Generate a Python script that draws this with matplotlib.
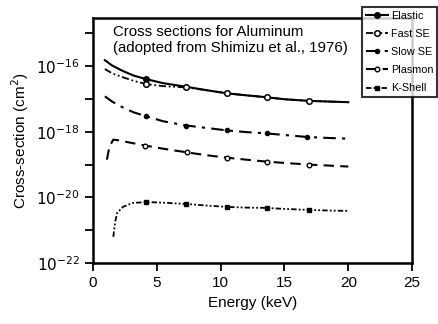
import numpy as np
import matplotlib
matplotlib.use("Agg")
import matplotlib.pyplot as plt
from matplotlib.ticker import FixedLocator, NullFormatter

plt.rcParams['font.family'] = ['Liberation Sans', 'DejaVu Sans']

# Energy (keV) and log10 cross-section (cm^2)
elastic_E = [0.94, 1.5, 2.35, 3.2, 4.2, 5.5, 7.3, 9, 10.5, 12, 13.6, 15, 16.9, 18.5, 20]
elastic_log = [-15.82, -15.98, -16.15, -16.29, -16.40, -16.52, -16.63, -16.74, -16.83, -16.89, -16.95, -17.01, -17.06, -17.08, -17.10]

fastse_E = [0.94, 1.5, 2.35, 3.2, 4.2, 5.5, 7.3, 9, 10.5, 12, 13.6, 15, 16.9, 18.5, 20]
fastse_log = [-16.09, -16.22, -16.34, -16.45, -16.55, -16.61, -16.65, -16.74, -16.83, -16.89, -16.95, -17.01, -17.06, -17.08, -17.10]

slowse_E = [0.94, 1.5, 2.35, 3.2, 4.2, 5.5, 7.3, 8.4, 10.5, 12, 13.6, 15, 16.8, 18.5, 20]
slowse_log = [-16.92, -17.08, -17.26, -17.41, -17.53, -17.68, -17.81, -17.86, -17.96, -18.01, -18.05, -18.10, -18.16, -18.19, -18.21]

plasmon_E = [1.1, 1.3, 1.6, 2.0, 2.9, 4.1, 5.4, 7.4, 9, 10.5, 12, 13.6, 15, 16.9, 18.5, 20]
plasmon_log = [-18.85, -18.45, -18.24, -18.26, -18.33, -18.42, -18.51, -18.63, -18.72, -18.79, -18.85, -18.91, -18.95, -19.00, -19.03, -19.06]

kshell_E = [1.6, 1.75, 1.9, 2.35, 3.1, 4.2, 5.5, 7.3, 9, 10.5, 12, 13.6, 15, 16.9, 18.5, 20]
kshell_log = [-21.2, -20.75, -20.47, -20.29, -20.17, -20.14, -20.16, -20.20, -20.25, -20.29, -20.31, -20.32, -20.35, -20.38, -20.40, -20.41]

series_names = ["Elastic", "Fast SE", "Slow SE", "Plasmon", "K-Shell"]
x_ticks = [0, 5, 10, 15, 20, 25]
y_major_exp = [-22, -20, -18, -16]
y_minor_exp = [-21, -19, -17, -15]

fig = plt.figure(figsize=(4.38, 3.24), dpi=100)
ax = fig.add_axes([0.212, 0.188, 0.729, 0.756])

lw = 1.5
h1, = ax.plot(elastic_E, 10.0 ** np.array(elastic_log), color='black', lw=lw, ls='-',
              marker='o', ms=4, markevery=[4], mfc='black', label=series_names[0])
h2, = ax.plot(fastse_E, 10.0 ** np.array(fastse_log), color='black', lw=1.3,
              ls=(0, (4, 1.5, 1, 1.5, 1, 1.5)), marker='o', ms=4, mfc='white', mew=1.1,
              markevery=[4, 6, 8, 10, 12], label=series_names[1])
h3, = ax.plot(slowse_E, 10.0 ** np.array(slowse_log), color='black', lw=lw,
              ls=(0, (6, 3, 1.5, 3)), marker='o', ms=3, mfc='black',
              markevery=[4, 6, 8, 10, 12], label=series_names[2])
h4, = ax.plot(plasmon_E, 10.0 ** np.array(plasmon_log), color='black', lw=lw,
              ls=(0, (5, 3)), marker='o', ms=3.3, mfc='white', mew=1.0,
              markevery=[5, 7, 9, 11, 13], label=series_names[3])
h5, = ax.plot(kshell_E, 10.0 ** np.array(kshell_log), color='black', lw=1.3,
              ls=(0, (3, 1.2, 1, 1.2, 1, 1.2)), marker='s', ms=3.5, mfc='black',
              markevery=[5, 7, 9, 11, 13], label=series_names[4])

ax.set_yscale('log')
ax.set_xlim(0, 25)
ax.set_ylim(1e-22, 10 ** -14.54)
ax.xaxis.set_major_locator(FixedLocator(x_ticks))
ax.yaxis.set_major_locator(FixedLocator([10.0 ** e for e in y_major_exp]))
ax.yaxis.set_minor_locator(FixedLocator([10.0 ** e for e in y_minor_exp]))
ax.yaxis.set_minor_formatter(NullFormatter())
ax.set_yticklabels([r'$10^{%d}$' % e for e in y_major_exp])

for s in ax.spines.values():
    s.set_linewidth(1.8)
ax.tick_params(axis='both', which='both', direction='out', length=6, width=1.3, labelsize=11)

ax.set_xlabel('Energy (keV)', fontsize=11)
ax.set_ylabel('Cross-section (cm$^2$)', fontsize=11)

ax.text(0.063, 0.972, 'Cross sections for Aluminum\n(adopted from Shimizu et al., 1976)',
        transform=ax.transAxes, ha='left', va='top', fontsize=10.8, linespacing=1.2)

leg = fig.legend(handles=[h1, h2, h3, h4, h5], loc='upper left',
                 bbox_to_anchor=(0.815, 0.995), fontsize=7.8, handlelength=2.0,
                 handletextpad=0.3, borderpad=0.35, labelspacing=0.75, frameon=True,
                 fancybox=False, edgecolor='black', markerscale=1.0)
leg.get_frame().set_linewidth(1.5)
leg.set_zorder(10)

fig.savefig('out.png', dpi=100)
